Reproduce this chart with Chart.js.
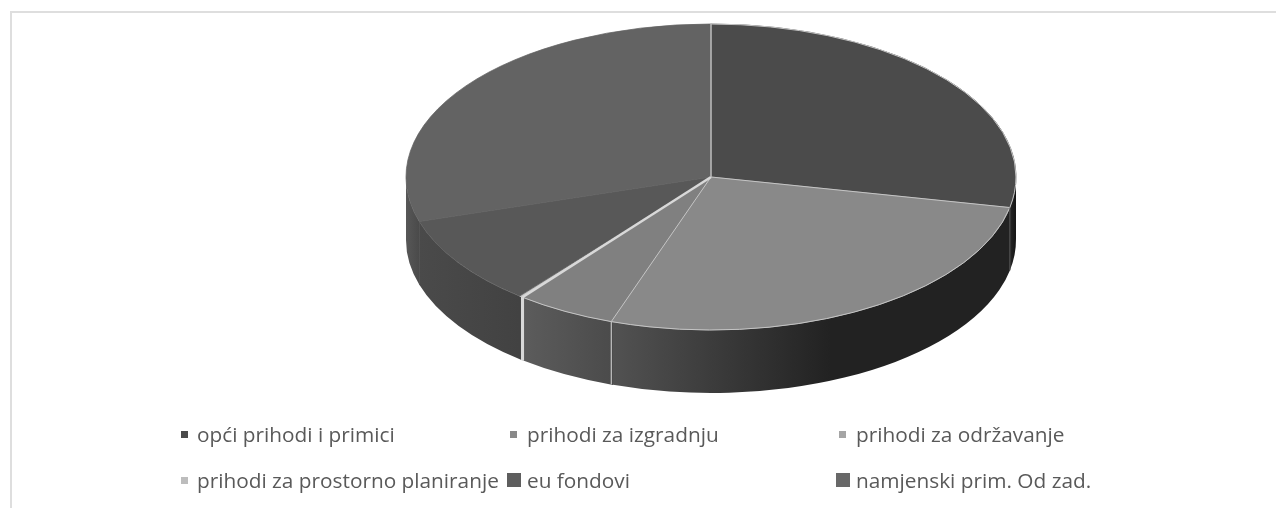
<!DOCTYPE html>
<html>
<head>
<meta charset="utf-8">
<script src="https://cdn.jsdelivr.net/npm/chart.js@4"></script>
<style>
    html, body { margin: 0; padding: 0; background: #fff; overflow: hidden; }
    #wrap { position: relative; width: 1276px; height: 508px; }
    #chart { position: absolute; left: 0; top: 0; }
    #frameTop { position: absolute; left: 10px; top: 11px; width: 1266px; height: 2px; background: #dedede; }
    #frameLeft { position: absolute; left: 10px; top: 11px; width: 2px; height: 497px; background: #dedede; }
    #legend { position: absolute; left: 0; top: 0; font-family: "Open Sans", sans-serif; font-size: 20.8px; color: #595959; }
    .item { position: absolute; white-space: nowrap; line-height: 22px; }
    .box { position: absolute; }
</style>
</head>
<body>
<div id="wrap">
    <canvas id="chart" width="1276" height="508"></canvas>
    <div id="frameTop"></div>
    <div id="frameLeft"></div>
    <div id="legend"></div>
</div>
<script>
// data
const categories = ['opći prihodi i primici', 'prihodi za izgradnju', 'prihodi za održavanje',
    'prihodi za prostorno planiranje', 'eu fondovi', 'namjenski prim. Od zad.'];
const shares = [28.2, 27.1, 5.3, 0.2, 9.5, 29.7];

// colours
const topColors = ['#4b4b4b', '#898989', '#808080', '#c4c4c4', '#585858', '#636363'];
const legendColors = ['#4b4b4b', '#898989', '#a5a5a5', '#bdbdbd', '#5e5e5e', '#686868'];
const sideColors = [
    ['#262626', '#141414'],
    ['#525252', '#222222'],
    ['#5c5c5c', '#4b4b4b'],
    ['#d8d8d8', '#d8d8d8'],
    ['#4a4a4a', '#424242'],
    ['#575757', '#4a4a4a']
];

// pie geometry on the page
const CX = 711, CY = 177, RX = 305, RY = 153, DEPTH = 63;

// lines drawn at the end of each slice: [top colour, top width, side colour, side width]
const seams = [
    ['#c4c4c4', 1, '#5a5a5a', 1],
    ['#c4c4c4', 1, '#c4c4c4', 1.2],
    ['#d8d8d8', 2.4, '#d8d8d8', 3],
    [null, 0, null, 0],
    [null, 0, null, 0],
    ['#bdbdbd', 1.5, null, 0]
];
// slices whose front edge has a light rim
const rimSlices = [0, 1, 2];

// legend layout
const legendBoxX = [181, 510, 839];
const legendBigBoxX = [179, 507, 836];
const legendTextX = [197, 527, 856];
const legendBoxY = [434, 480];
const legendTextY = [423, 469];
const bigBoxes = [4, 5];

const pie3d = {
    id: 'pie3d',
    beforeDatasetsDraw(chart) {
        const ctx = chart.ctx;
        const arcs = chart.getDatasetMeta(0).data;

        // side wall: only the part of each slice facing the viewer (0..PI on canvas)
        arcs.forEach((arc, i) => {
            const a0 = Math.max(arc.startAngle, 0);
            const a1 = Math.min(arc.endAngle, Math.PI);
            if (a1 <= a0) return;
            const x0 = CX + RX * Math.cos(a1), x1 = CX + RX * Math.cos(a0);
            const grad = ctx.createLinearGradient(x0, 0, Math.max(x1, x0 + 1), 0);
            grad.addColorStop(0, sideColors[i][0]);
            if (i === 1) grad.addColorStop(0.55, sideColors[i][1]);
            grad.addColorStop(1, sideColors[i][1]);
            // small overlap so no pale gap shows between neighbours
            ctx.beginPath();
            ctx.ellipse(CX, CY, RX, RY, 0, a0 - 0.006, a1);
            ctx.ellipse(CX, CY + DEPTH, RX, RY, 0, a1, a0 - 0.006, true);
            ctx.closePath();
            ctx.fillStyle = grad;
            ctx.fill();
        });

        // squash the round pie into the top ellipse
        ctx.save();
        ctx.translate(CX, CY);
        ctx.scale(1, RY / RX);
        ctx.translate(-arcs[0].x, -arcs[0].y);
    },
    afterDatasetsDraw(chart) {
        const ctx = chart.ctx;
        ctx.restore();
        const arcs = chart.getDatasetMeta(0).data;

        ctx.save();
        rimSlices.forEach(i => {
            ctx.beginPath();
            ctx.ellipse(CX, CY, RX, RY, 0, arcs[i].startAngle, arcs[i].endAngle);
            ctx.strokeStyle = '#c4c4c4';
            ctx.lineWidth = 1;
            ctx.stroke();
        });
        arcs.forEach((arc, i) => {
            const [topColor, topWidth, sideColor, sideWidth] = seams[i];
            const x = CX + RX * Math.cos(arc.endAngle), y = CY + RY * Math.sin(arc.endAngle);
            if (topColor) {
                ctx.beginPath();
                ctx.moveTo(CX, CY);
                ctx.lineTo(x, y);
                ctx.strokeStyle = topColor;
                ctx.lineWidth = topWidth;
                ctx.stroke();
            }
            if (sideColor) {
                ctx.beginPath();
                ctx.moveTo(x, y);
                ctx.lineTo(x, y + DEPTH);
                ctx.strokeStyle = sideColor;
                ctx.lineWidth = sideWidth;
                ctx.stroke();
            }
        });
        ctx.restore();
    }
};

new Chart(document.getElementById('chart').getContext('2d'), {
    type: 'pie',
    data: {
        labels: categories,
        datasets: [{
            data: shares,
            backgroundColor: topColors,
            borderColor: topColors,
            borderWidth: 1,
            radius: RX,
            clip: false
        }]
    },
    options: {
        responsive: false,
        animation: false,
        plugins: { legend: { display: false }, tooltip: { enabled: false } }
    },
    plugins: [pie3d]
});

// legend built from the same arrays
const legend = document.getElementById('legend');
categories.forEach((name, i) => {
    const col = i % 3, row = Math.floor(i / 3);
    const big = bigBoxes.includes(i);
    const size = big ? 14 : 7;
    const box = document.createElement('div');
    box.className = 'box';
    box.style.left = (big ? legendBigBoxX[col] : legendBoxX[col]) + 'px';
    box.style.top = (legendBoxY[row] - size / 2) + 'px';
    box.style.width = size + 'px';
    box.style.height = size + 'px';
    box.style.background = legendColors[i];
    legend.appendChild(box);

    const label = document.createElement('div');
    label.className = 'item';
    label.textContent = name;
    label.style.left = legendTextX[col] + 'px';
    label.style.top = legendTextY[row] + 'px';
    legend.appendChild(label);
});
</script>
</body>
</html>
